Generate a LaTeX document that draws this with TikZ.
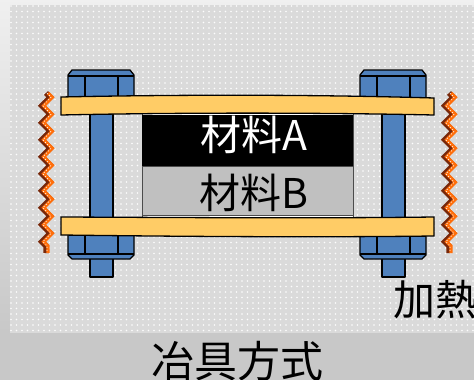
\documentclass[tikz,border=0pt]{standalone}
\usepackage{fontspec}
\usepackage{tikz}
\usetikzlibrary{patterns.meta,decorations.pathmorphing}
\newfontfamily\jpfont{Noto Sans CJK JP}
\definecolor{jigblue}{RGB}{79,129,189}
\definecolor{jigyellow}{RGB}{255,204,102}
\definecolor{jigpanel}{RGB}{218,218,218}
\definecolor{jigshade}{RGB}{200,200,200}
\definecolor{jiggray}{RGB}{192,192,192}
\definecolor{heatdark}{RGB}{120,40,10}
\definecolor{heatorange}{RGB}{255,110,10}

\begin{document}
\begin{tikzpicture}[
  x=1pt, y=-1pt,
  plate/.style={draw=black, line width=1.3pt, fill=jigyellow},
  bolt/.style={draw=black, line width=1.3pt, fill=jigblue, line join=round},
  edge/.style={draw=black, line width=1.1pt},
  layer/.style={draw=black!70, line width=0.6pt},
  wave/.style={decorate, decoration={zigzag, segment length=17pt, amplitude=4.2pt}},
  label/.style={inner sep=0pt}
]
  % backdrop and dotted panel
  \useasboundingbox (0,0) rectangle (474,380);
  \shade[top color=white!94!black, bottom color=jigshade] (0,0) rectangle (474,333);
  \fill[jigshade] (0,333) rectangle (474,380);
  \fill[jigpanel] (10,5) rectangle (474,333);
  \fill[pattern={Dots[distance=5.5pt, radius=0.8pt]}, pattern color=white!94!jigpanel]
    (10,5) rectangle (474,333);

  % two bolts with heads and nuts
  \foreach \bx in {68,360} {
    \draw[bolt] (\bx+22,245) rectangle (\bx+45,277);
    \draw[bolt] (\bx+22,100) rectangle (\bx+45,232);
    \draw[bolt] (\bx,98) -- (\bx,75) -- (\bx+4,70) -- (\bx+62,70) -- (\bx+66,75) -- (\bx+66,98) -- cycle;
    \draw[edge] (\bx,76) -- (\bx+66,76);
    \draw[edge] (\bx+17,76) -- (\bx+17,97) (\bx+50,76) -- (\bx+50,97);
    \fill (\bx+17,76.5) circle (1.6) (\bx+50,76.5) circle (1.6);
    \draw[bolt] (\bx,232) -- (\bx,255) -- (\bx+4,259) -- (\bx+62,259) -- (\bx+66,255) -- (\bx+66,232) -- cycle;
    \draw[edge] (\bx,254) -- (\bx+66,254);
    \draw[edge] (\bx+17,236) -- (\bx+17,254) (\bx+50,236) -- (\bx+50,254);
    \fill (\bx+17,253.5) circle (1.6) (\bx+50,253.5) circle (1.6);
  }

  % clamped materials
  \draw[layer, fill=white] (142,112) rectangle (353,217);
  \fill[black] (142,115) rectangle (353,166.5);
  \draw[layer, fill=jiggray] (142,166.5) rectangle (353,215);
  \node[label, text=white, font=\jpfont\fontsize{41}{41}\selectfont] (matA) at (254,135) {材料A};
  \node[label, font=\jpfont\fontsize{41}{41}\selectfont] (matB) at (254,193) {材料B};

  % clamp plates
  \draw[plate] (61,97) .. controls (180,94.5) and (315,94.5) .. (434,98)
    -- (434,115) .. controls (315,112.5) and (180,112.5) .. (61,115) -- cycle;
  \draw[plate] (61,217) .. controls (180,217.5) and (315,218.5) .. (434,217)
    -- (434,236) .. controls (315,237.5) and (180,236.5) .. (61,235) -- cycle;

  % heaters either side
  \foreach \hx in {47,450} {
    \draw[wave, heatdark, line width=5.5pt] (\hx-1,93) -- (\hx-1,253);
    \draw[wave, heatorange, line width=3.4pt] (\hx+1,93) -- (\hx+1,253);
    \draw[wave, white, line width=0.7pt, dash pattern=on 1pt off 2pt] (\hx,93) -- (\hx,253);
  }

  \node[label, font=\jpfont\fontsize{42}{42}\selectfont, anchor=west] (heat) at (393,300) {加熱};
  \node[label, font=\jpfont\fontsize{43}{43}\selectfont] (title) at (237,361) {冶具方式};
\end{tikzpicture}
\end{document}
